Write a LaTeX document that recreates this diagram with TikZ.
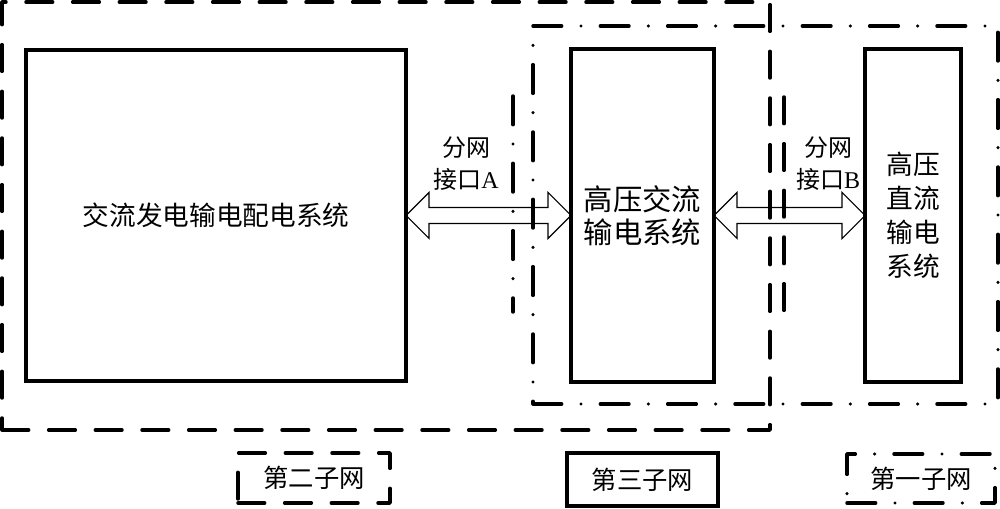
\documentclass[tikz,border=0pt]{standalone}
\usepackage{fontspec}
\setmainfont{Liberation Serif}
\newfontfamily\cjk{Noto Sans CJK SC}
\usetikzlibrary{fit,calc}
\begin{document}
\begin{tikzpicture}[x=0.75pt,y=-0.75pt,
  every node/.style={inner sep=0pt, outer sep=0pt},
  solidbox/.style={draw, line width=2.6pt, line join=miter},
  dashbox/.style={draw, line width=2.6pt, line cap=round, line join=round, dash pattern=on 20pt off 15pt},
  dotdash/.style={draw, line width=2.6pt, line cap=round, line join=round, dash pattern=on 21.5pt off 14.5pt on 0pt off 14.5pt},
  arr/.style={draw, line width=0.8pt, line join=miter},
  lbl/.style={font=\fontsize{18pt}{24pt}\selectfont, align=center},
  leg/.style={font=\fontsize{19pt}{24pt}\selectfont, align=center},
  big/.style={font=\fontsize{20pt}{24pt}\selectfont, align=center}]
\useasboundingbox (0,0) rectangle (1000,509);

% subnet frames
\node[dashbox, fit={(2,2) (770,430)}] (sub2) {};
\node[dotdash, fit={(533,26) (998,404)}] (sub31) {};

% systems
\node[solidbox, fit={(26,50) (406,381)}, label={[big]center:{\cjk 交流发电输电配电系统}}] (sysA) {};
\node[solidbox, fit={(571,49) (714,382)}, label={[big, font=\fontsize{22pt}{25pt}\selectfont]center:{\cjk 高压交流}\\{\cjk 输电系统}}] (sysB) {};
\node[solidbox, fit={(865,49) (961,382)}, label={[big, font=\fontsize{20pt}{25.5pt}\selectfont]center:{\cjk 高压}\\{\cjk 直流}\\{\cjk 输电}\\{\cjk 系统}}] (sysC) {};

% interface lines
\coordinate (ia1) at (513,96);
\coordinate (ia2) at (513,312);
\coordinate (ib1) at (784,97);
\coordinate (ib2) at (784,312);
\draw[dotdash] (ia1) -- (ia2);
\draw[dashbox] (ib1) -- (ib2);

% double arrows
\draw[arr] (sysA.east) -- ++(23,-23) -- ++(0,15) -- ($(sysB.west)+(-23,-8)$) -- ++(0,-15) -- (sysB.west)
  -- ++(-23,23) -- ++(0,-15) -- ($(sysA.east)+(23,8)$) -- ++(0,15) -- cycle;
\draw[arr] (sysB.east) -- ++(23,-23) -- ++(0,15) -- ($(sysC.west)+(-23,-8)$) -- ++(0,-15) -- (sysC.west)
  -- ++(-23,23) -- ++(0,-15) -- ($(sysB.east)+(23,8)$) -- ++(0,15) -- cycle;

% interface labels
\node[lbl] (labA) at (466,164) {{\cjk 分网}\\{\cjk 接口}A};
\node[lbl] (labB) at (828,164) {{\cjk 分网}\\{\cjk 接口}B};

% legend
\node[dashbox, fit={(238,453) (390,503)}, label={[leg]center:{\cjk 第二子网}}] (leg2) {};
\node[solidbox, fit={(567,453) (718,506)}, label={[leg]center:{\cjk 第三子网}}] (leg3) {};
\node[dotdash, fit={(847,454) (995,503)}, label={[leg]center:{\cjk 第一子网}}] (leg1) {};
\end{tikzpicture}
\end{document}
